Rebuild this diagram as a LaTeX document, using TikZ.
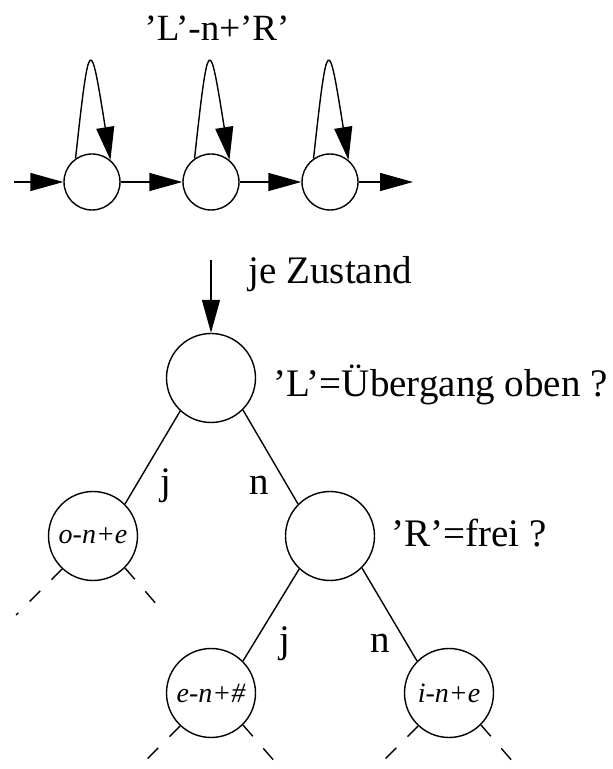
\documentclass[tikz,border=0pt]{standalone}
\usepackage{fontspec}
\setmainfont{Liberation Serif}
\usetikzlibrary{arrows.meta}

\begin{document}
\begin{tikzpicture}[x=1pt, y=1pt, line width=1.4pt,
  >={Triangle[length=33pt,width=18pt]},
  zust/.style={draw, circle, minimum size=56pt, inner sep=0pt},
  knoten/.style={draw, circle, minimum size=89pt, inner sep=0pt,
    font=\fontsize{28}{33}\selectfont\itshape},
  txt/.style={inner sep=0pt, font=\fontsize{39}{47}\selectfont},
  stub/.style={dash pattern=on 15pt off 16pt}]
  \clip (0,0) rectangle (613,769);

  % Kette: drei Zustaende mit Schleife
  \node[txt, anchor=base, font=\fontsize{37}{44}\selectfont] (kette) at (217,728) {’L’-n+’R’};
  \node[zust] (Z1) at (92,587) {};
  \node[zust] (Z2) at (211,587) {};
  \node[zust] (Z3) at (330,587) {};
  \coordinate (ein) at (14,587);
  \coordinate (aus) at (413,587);

  \draw[->] (ein) -- (Z1);
  \draw[->] (Z1) -- (Z2);
  \draw[->] (Z2) -- (Z3);
  \draw[->] (Z3) -- (aus);
  \draw[->] (Z1.125) .. controls +(14,128) and +(-20,125) .. (Z1.50);
  \draw[->] (Z2.125) .. controls +(14,128) and +(-20,125) .. (Z2.50);
  \draw[->] (Z3.125) .. controls +(14,128) and +(-20,125) .. (Z3.50);

  % Entscheidungsbaum je Zustand
  \coordinate (start) at (211,509);
  \node[txt, anchor=base west] (je) at (248,485) {je Zustand};
  \node[knoten] (T0) at (211,391) {};
  \node[txt, anchor=base west] (F0) at (273,372) {’L’=Übergang oben ?};
  \node[knoten] (T1) at (93,233) {o-n+e};
  \node[knoten] (T2) at (330,233) {};
  \node[txt, anchor=base west] (F2) at (391,222) {’R’=frei ?};
  \node[knoten] (T3) at (211,76) {e-n+\#};
  \node[knoten] (T4) at (449,76) {i-n+e};

  \draw[->] (start) -- (T0);
  \draw (T0.227) -- (T1.45);
  \draw (T0.315) -- (T2.135);
  \draw (T2.227) -- (T3.45);
  \draw (T2.315) -- (T4.135);

  \node[txt, anchor=base] (j1) at (166,274) {j};
  \node[txt, anchor=base] (n1) at (259,274) {n};
  \node[txt, anchor=base] (j2) at (285,116) {j};
  \node[txt, anchor=base] (n2) at (380,116) {n};

  % offene Aeste
  \draw[stub] (T1.227) -- ++(225:65);
  \draw[stub] (T1.315) -- ++(-49:48);
  \draw[stub] (T3.227) -- ++(225:48);
  \draw[stub] (T3.315) -- ++(-49:48);
  \draw[stub] (T4.227) -- ++(225:48);
  \draw[stub] (T4.315) -- ++(-49:48);
\end{tikzpicture}
\end{document}
